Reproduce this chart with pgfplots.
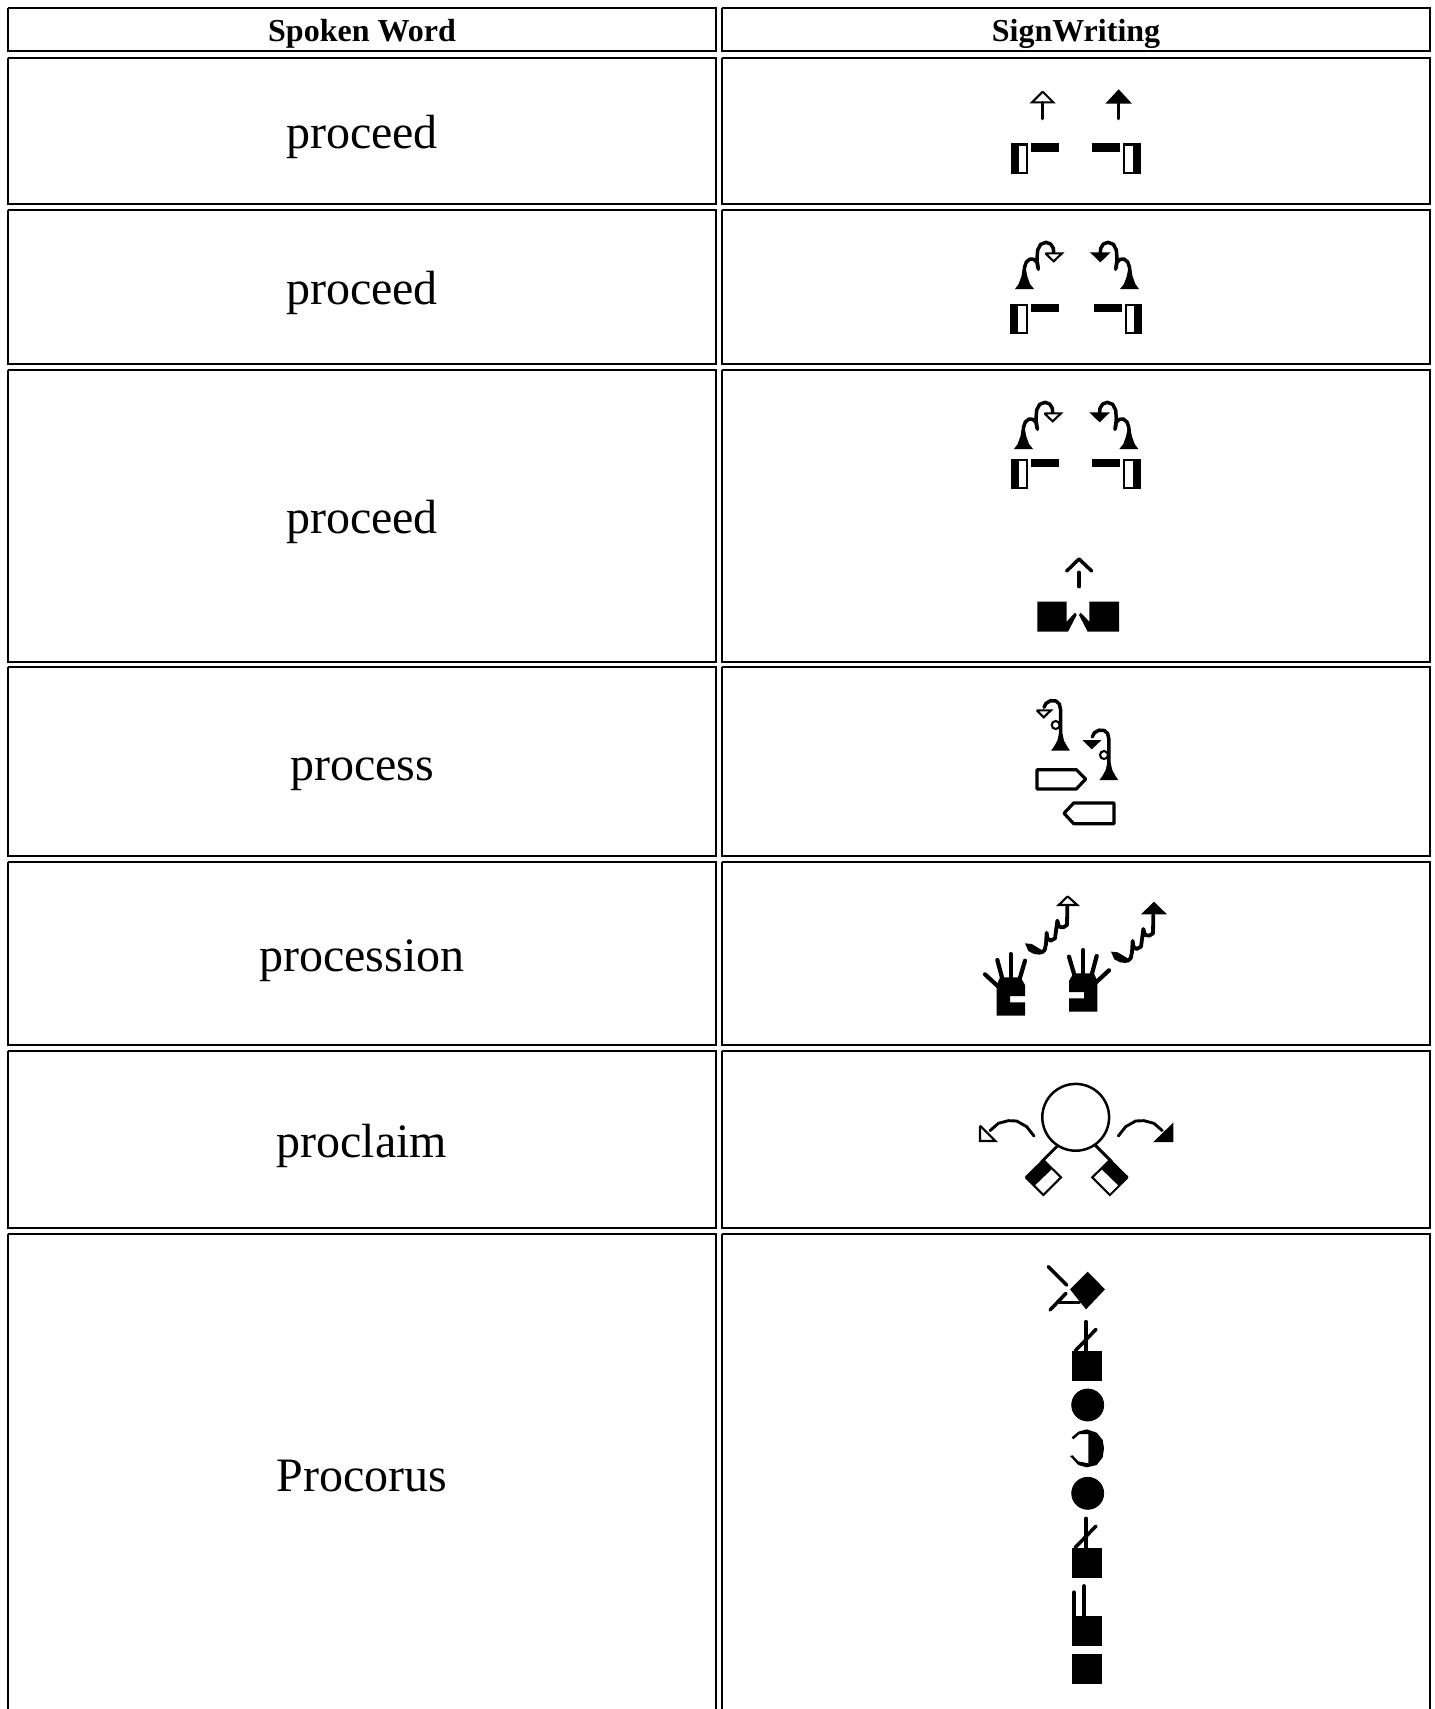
\documentclass[border=0pt]{standalone}
\usepackage{fontspec}
\setmainfont{Liberation Serif}
\usepackage{pgfplots}
\usepackage{pgfplotstable}
\pgfplotsset{compat=1.18}
\tikzset{
 blk/.style={fill=black,draw=none},
 wht/.style={fill=white,draw=none},
 st/.style={draw=black,line width=#1,line cap=round,line join=round},
 st/.default=1.75pt,
 hol/.style={draw=black,fill=white,line width=1.05pt,line join=miter},
}
% G{style}{ox}{sign}{oy}{table}: table in zoomed units (1/3 pixel)
\newcommand\G[5]{\addplot[#1] table[x expr={#2+(#3)*\thisrowno{0}/3}, y expr={#4+\thisrowno{1}/3}] {#5};}
\newcommand\Cell[4]{\addplot[draw=black,line width=1pt,line join=miter] coordinates {(#1,#2) (#3,#2) (#3,#4) (#1,#4) (#1,#2)};}
% hand of rows 1-3
\pgfplotstableread{
152 250
205 250
205 341
152 341
}\hOuter
\pgfplotstableread{
176 257
199 257
199 335
176 335
}\hInner
\pgfplotstableread{
214 250
298 250
298 275
214 275
}\hBar
\newcommand\Hands[3]{\G{blk}{#1}{1}{#3}{\hOuter}\G{wht}{#1}{1}{#3}{\hInner}\G{blk}{#1}{1}{#3}{\hBar}
 \G{blk}{#2}{-1}{#3}{\hOuter}\G{wht}{#2}{-1}{#3}{\hInner}\G{blk}{#2}{-1}{#3}{\hBar}}
% arrow heads and stems row 1
\pgfplotstableread{
248 95
216 127
280 127
248 95
}\aHol
\pgfplotstableread{
248 128
248 176
}\aStem
\pgfplotstableread{
248 88
208 131
288 131
}\aFil
% double curl arrow rows 2-3
\pgfplotstableread{
165 687
176 672
184 650
188 630
198 630
202 650
210 672
222 687
}\cBase
\pgfplotstableread{
192 635
194 620
199 606
210 597
222 598
232 608
235 628
}\cOne
\pgfplotstableread{
233 622
231 595
233 570
242 553
258 547
272 552
280 565
281 578
}\cTwo
\pgfplotstableread{
256 580
306 580
281 604
256 580
}\cHeadH
\pgfplotstableread{
250 577
312 577
281 607
}\cHeadF
\newcommand\Curl[4]{\G{blk}{#1}{1}{#3}{\cBase}\G{st}{#1}{1}{#3}{\cOne}\G{st}{#1}{1}{#3}{\cTwo}\G{hol}{#1}{1}{#3}{\cHeadH}
 \G{blk}{#2}{-1}{#4}{\cBase}\G{st}{#2}{-1}{#4}{\cOne}\G{st}{#2}{-1}{#4}{\cTwo}\G{blk}{#2}{-1}{#4}{\cHeadF}}
% row 3 lower
\pgfplotstableread{
320 603
357 567
395 603
}\uChev
\pgfplotstableread{
357 607
357 650
}\uStem
\pgfplotstableread{
232 695
320 695
320 755
345 728
350 735
324 785
232 785
}\uL
\pgfplotstableread{
477 695
388 695
388 755
362 728
357 735
383 785
477 785
}\uR
% row 4
\pgfplotstableread{
213 212
222 200
232 182
237 160
247 160
252 182
262 200
270 212
}\pBase
\pgfplotstableread{
242 165
242 90
238 72
228 63
212 62
198 70
192 82
}\pStem
\pgfplotstableread{
170 91
213 91
191 112
170 91
}\pHeadH
\pgfplotstableread{
307 180
365 180
335 208
}\pHeadF
\pgfplotstableread{
171 269
289 269
317 297
289 327
171 327
171 269
}\pPentA
\pgfplotstableread{
402 369
281 369
252 400
281 431
402 431
402 369
}\pPentB
% row 5
\pgfplotstableread{
110 437
110 345
120 322
182 322
195 345
195 378
150 378
150 397
195 397
195 437
}\wPalm
\pgfplotstableread{
75 313
115 350
}\wFa
\pgfplotstableread{
112 270
128 330
}\wFb
\pgfplotstableread{
152 252
152 330
}\wFc
\pgfplotstableread{
195 272
178 330
}\wFd
\newcommand\Wave[3]{\G{blk}{#1}{#2}{#3}{\wPalm}\G{st=2.1pt}{#1}{#2}{#3}{\wFa}\G{st=2.1pt}{#1}{#2}{#3}{\wFb}\G{st=2.1pt}{#1}{#2}{#3}{\wFc}\G{st=2.1pt}{#1}{#2}{#3}{\wFd}}
\pgfplotstableread{
195 220
215 222
232 232
245 240
255 245
240 254
222 252
205 243
}\sCup
\pgfplotstableread{
245 248
254 240
258 222
260 188
262 205
272 212
285 205
292 152
297 170
310 172
321 165
322 110
}\sWave
\pgfplotstableread{
323 79
296 105
352 105
323 79
}\sHeadH
\pgfplotstableread{
323 72
284 110
362 110
}\sHeadF
% row 6
\pgfplotstableread{
222 228
200 200
170 183
145 182
115 190
90 212
}\oArc
\pgfplotstableread{
60 197
60 243
106 243
60 197
}\oHeadH
\pgfplotstableread{
57 188
57 246
117 246
}\oHeadF
\pgfplotstableread{
312 238
245 305
}\oStick
\pgfplotstableread{
197 352
250 300
303 352
250 405
197 352
}\oDia
\pgfplotstableread{
197 352
250 300
277 326
223 378
}\oDiaB
% row 8
\pgfplotstableread{
150 118
203 65
255 118
198 178
}\zDia
\pgfplotstableread{
85 50
140 105
}\zLa
\pgfplotstableread{
90 180
138 130
}\zLb
\pgfplotstableread{
118 157
178 157
}\zLc
\pgfplotstableread{
156 303
245 303
245 393
156 393
}\zSq
\pgfplotstableread{
198 215
198 303
}\zVa
\pgfplotstableread{
228 238
165 303
}\zVb
\pgfplotstableread{
155 562
175 545
200 538
230 548
248 570
252 595
248 622
230 645
200 652
175 645
150 618
158 616
175 634
205 640
205 552
178 552
160 568
}\zMoon
\pgfplotstableread{
162 367
162 437
}\zTa
\pgfplotstableread{
192 349
192 437
}\zTb
\begin{document}
\begin{tikzpicture}
\begin{axis}[
 width=717.5pt,height=854.5pt,scale only axis,
 xmin=0,xmax=1435,ymin=0,ymax=1709,y dir=reverse,
 axis lines=none,clip=true,
]
% table frames
\Cell{8}{8}{716}{51}
\Cell{722}{8}{1430}{51}
\Cell{8}{58}{716}{204}
\Cell{722}{58}{1430}{204}
\Cell{8}{210}{716}{364}
\Cell{722}{210}{1430}{364}
\Cell{8}{370}{716}{662}
\Cell{722}{370}{1430}{662}
\Cell{8}{667}{716}{856}
\Cell{722}{667}{1430}{856}
\Cell{8}{862}{716}{1045}
\Cell{722}{862}{1430}{1045}
\Cell{8}{1051}{716}{1228}
\Cell{722}{1051}{1430}{1228}
\Cell{8}{1234}{716}{1720}
\Cell{722}{1234}{1430}{1720}
% row 1
\Hands{960}{1191.7}{60}
\G{hol}{960}{1}{60}{\aHol}
\G{st=1.75pt}{960}{1}{60}{\aStem}
\G{blk}{1036}{1}{60}{\aFil}
\G{st=1.75pt}{1036}{1}{60}{\aStem}
% row 2
\Hands{959.3}{1193}{220.7}
\Curl{960}{1194}{60}{60}
% row 3
\Curl{959}{1193.3}{220}{220}
\Hands{960}{1191.7}{375.67}
\G{st=1.75pt}{960}{1}{370}{\uChev}
\G{st=1.75pt}{960}{1}{370}{\uStem}
\G{blk}{960}{1}{370}{\uL}
\G{blk}{960}{1}{370}{\uR}
% row 4
\G{blk}{980}{1}{680}{\pBase}
\G{st}{980}{1}{680}{\pStem}
\G{hol}{980}{1}{680}{\pHeadH}
\G{blk}{1028.3}{1}{709.5}{\pBase}
\G{st}{1028.3}{1}{709.5}{\pStem}
\G{blk}{980}{1}{680}{\pHeadF}
\G{st=1.6pt}{980}{1}{680}{\pPentA}
\G{st=1.6pt}{980}{1}{680}{\pPentB}
\addplot[only marks,mark=*,mark size=2pt,mark options={fill=white,draw=black,line width=1.05pt}] coordinates {(1055.7,725) (1104,755)};
% row 5
\Wave{960}{1}{870}
\Wave{1134}{-1}{866}
\G{blk}{960}{1}{870}{\sCup}
\G{st=1.9pt}{960}{1}{870}{\sWave}
\G{hol}{960}{1}{870}{\sHeadH}
\G{blk}{1046}{1}{878.3}{\sCup}
\G{st=1.9pt}{1046}{1}{878.3}{\sWave}
\G{blk}{1046.3}{1}{877.7}{\sHeadF}
% row 6
\addplot[only marks,mark=*,mark size=16.7pt,mark options={fill=white,draw=black,line width=1.25pt}] coordinates {(1075.7,1117.3)};
\G{st=1.45pt}{960}{1}{1060}{\oArc}
\G{hol}{960}{1}{1060}{\oHeadH}
\G{st=1.45pt}{1192.3}{-1}{1060}{\oArc}
\G{blk}{1192.3}{-1}{1060}{\oHeadF}
\G{st=1.45pt}{960}{1}{1060}{\oStick}
\G{st=1.45pt}{1193.3}{-1}{1060}{\oStick}
\G{hol}{960}{1}{1060}{\oDia}
\G{blk}{960}{1}{1060}{\oDiaB}
\G{hol}{1193.3}{-1}{1060}{\oDia}
\G{blk}{1193.3}{-1}{1060}{\oDiaB}
% row 8
\G{blk}{1020}{1}{1250}{\zDia}
\G{st}{1020}{1}{1250}{\zLa}
\G{st}{1020}{1}{1250}{\zLb}
\G{st}{1020}{1}{1250}{\zLc}
\G{blk}{1020}{1}{1250}{\zSq}
\G{st}{1020}{1}{1250}{\zVa}
\G{st}{1020}{1}{1250}{\zVb}
\addplot[only marks,mark=*,mark size=8pt,mark options={fill=black,draw=none}] coordinates {(1087.7,1405) (1087.7,1493.3)};
\G{blk}{1020}{1}{1250}{\zMoon}
\G{blk}{1020}{1}{1446.7}{\zSq}
\G{st}{1020}{1}{1446.7}{\zVa}
\G{st}{1020}{1}{1446.7}{\zVb}
\G{blk}{1020}{1}{1514.7}{\zSq}
\G{st=2pt}{1020}{1}{1470}{\zTa}
\G{st=2.3pt}{1020}{1}{1470}{\zTb}
\G{blk}{1020}{1}{1553.3}{\zSq}
% text
\node[anchor=base,font=\fontsize{16}{16}\selectfont\bfseries] at (axis cs:362,41) {Spoken Word};
\node[anchor=base,font=\fontsize{16}{16}\selectfont\bfseries] at (axis cs:1076,41) {SignWriting};
\node[anchor=base,font=\fontsize{24}{24}\selectfont] at (axis cs:362,148) {proceed};
\node[anchor=base,font=\fontsize{24}{24}\selectfont] at (axis cs:362,304) {proceed};
\node[anchor=base,font=\fontsize{24}{24}\selectfont] at (axis cs:362,533) {proceed};
\node[anchor=base,font=\fontsize{24}{24}\selectfont] at (axis cs:362,780) {process};
\node[anchor=base,font=\fontsize{24}{24}\selectfont] at (axis cs:362,971) {procession};
\node[anchor=base,font=\fontsize{24}{24}\selectfont] at (axis cs:362,1157) {proclaim};
\node[anchor=base,font=\fontsize{24}{24}\selectfont] at (axis cs:362,1491) {Procorus};
\end{axis}
\pgfresetboundingbox
\path[use as bounding box] (current axis.south west) rectangle (current axis.north east);
\end{tikzpicture}
\end{document}
